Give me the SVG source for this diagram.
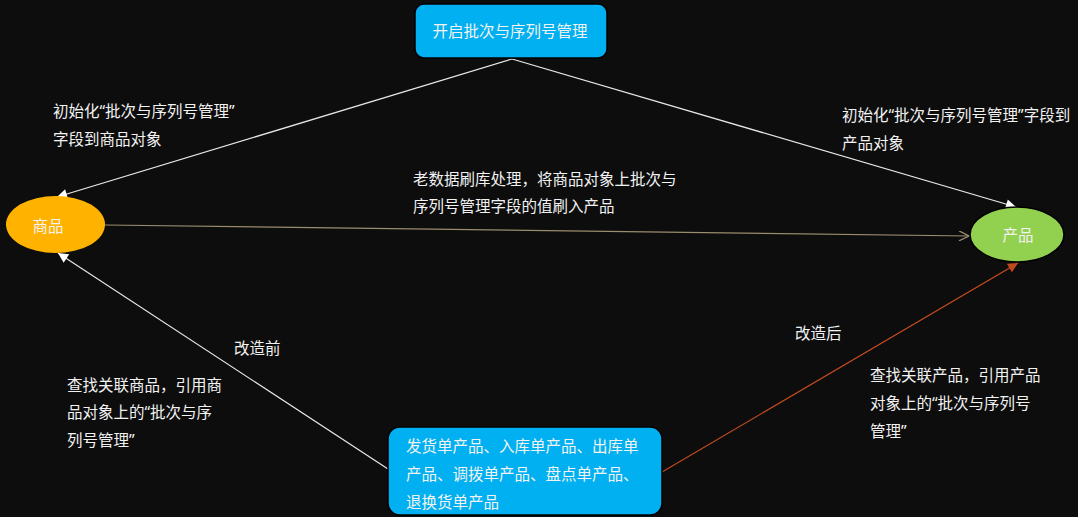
<svg xmlns="http://www.w3.org/2000/svg" width="1078" height="517" viewBox="0 0 1078 517">
<defs>
<style>
text{font-family:"Noto Sans","Noto Sans CJK SC",sans-serif;font-size:15.5px;fill:#f2f2f2;dominant-baseline:central}
.c{text-anchor:middle}
.ln{fill:none;stroke-width:1.2}
</style>
<marker id="aw" viewBox="0 0 10 10" refX="10" refY="5" markerWidth="12" markerHeight="10" markerUnits="userSpaceOnUse" orient="auto"><path d="M0,0L10,5L0,10z" fill="#ffffff"/></marker>
<marker id="ar" viewBox="0 0 10 10" refX="10" refY="5" markerWidth="12" markerHeight="10" markerUnits="userSpaceOnUse" orient="auto"><path d="M0,0L10,5L0,10z" fill="#c04a1e"/></marker>
<marker id="ao" viewBox="0 0 10 10" refX="10" refY="5" markerWidth="12" markerHeight="10" markerUnits="userSpaceOnUse" orient="auto"><path d="M0,0L10,5L0,10" fill="none" stroke="#9a8c6e" stroke-width="1.3"/></marker>
</defs>
<rect width="1078" height="517" fill="#0d0d0d"/>
<g id="connectors">
<line class="ln" x1="512" y1="59" x2="57" y2="197" stroke="#e8e8e8" marker-end="url(#aw)"/>
<line class="ln" x1="512" y1="59" x2="1016" y2="207" stroke="#e8e8e8" marker-end="url(#aw)"/>
<line class="ln" x1="105" y1="225" x2="969" y2="236" stroke="#9a8c6e" marker-end="url(#ao)"/>
<line class="ln" x1="388" y1="469" x2="58" y2="253" stroke="#e8e8e8" marker-end="url(#aw)"/>
<line class="ln" x1="662" y1="472" x2="1018" y2="263" stroke="#c04a1e" marker-end="url(#ar)"/>
</g>
<g id="labels">
<text x="53" y="110.5">初始化“批次与序列号管理”</text>
<text x="53" y="139">字段到商品对象</text>
<text x="842" y="114.5">初始化“批次与序列号管理”字段到</text>
<text x="842" y="143">产品对象</text>
<text x="413" y="179">老数据刷库处理，将商品对象上批次与</text>
<text x="413" y="206">序列号管理字段的值刷入产品</text>
<text x="234" y="347.5">改造前</text>
<text x="795" y="333">改造后</text>
<text x="67" y="384.5">查找关联商品，引用商</text>
<text x="67" y="412">品对象上的“批次与序</text>
<text x="67" y="439.5">列号管理”</text>
<text x="870" y="375">查找关联产品，引用产品</text>
<text x="870" y="403">对象上的“批次与序列号</text>
<text x="870" y="431">管理”</text>
</g>
<g id="node-start">
<rect x="415" y="4" width="192" height="54" rx="9" fill="#00b0f0" stroke="#000" stroke-width="1.5"/>
<text class="c" x="510" y="31">开启批次与序列号管理</text>
</g>
<g id="node-goods">
<ellipse cx="55.5" cy="224.5" rx="49.5" ry="28.5" fill="#ffb300"/>
<text class="c" x="48" y="225.5">商品</text>
</g>
<g id="node-product">
<ellipse cx="1017" cy="234.5" rx="47" ry="27.5" fill="#92d050" stroke="#000" stroke-width="1.5"/>
<text class="c" x="1018" y="234.5">产品</text>
</g>
<g id="node-docs">
<rect x="388" y="427" width="274" height="88" rx="12" fill="#00b0f0" stroke="#000" stroke-width="1.5"/>
<text x="406" y="445.5">发货单产品、入库单产品、出库单</text>
<text x="406" y="473.5">产品、调拨单产品、盘点单产品、</text>
<text x="406" y="502">退换货单产品</text>
</g>
</svg>
